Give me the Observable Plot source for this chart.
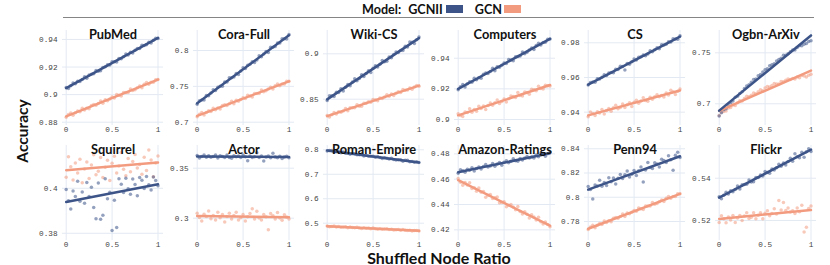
<!DOCTYPE html>
<html><head><meta charset="utf-8">
<script src="https://cdn.jsdelivr.net/npm/d3@7"></script>
<script src="https://cdn.jsdelivr.net/npm/@observablehq/plot@0.6"></script>
<style>
body{margin:0;background:#fff;}
#chart{position:relative;width:830px;height:265px;font-family:Lato,"Open Sans",sans-serif;overflow:hidden;}
.panel{position:absolute;}
.lbl{position:absolute;font-weight:bold;color:#111;white-space:nowrap;transform:translate(-50%,-50%);}
</style></head><body><div id="chart"></div>
<script>
const datasets = ["PubMed","Cora-Full","Wiki-CS","Computers","CS","Ogbn-ArXiv","Squirrel","Actor","Roman-Empire","Amazon-Ratings","Penn94","Flickr"];
const models = ["GCNII","GCN"];
const colors = ["#3C5488","#F39B7F"];
const xTicks = [0,0.5,1];
const yTicks = [[0.88,0.9,0.92,0.94],[0.7,0.75,0.8],[0.85,0.9],[0.9,0.92,0.94],[0.94,0.96,0.98],[0.7,0.75],[0.38,0.4],[0.3,0.35],[0.5,0.6,0.7,0.8],[0.42,0.44,0.46,0.48],[0.78,0.8,0.82,0.84],[0.52,0.54]];
const yDomains = [[0.8776,0.9465],[0.6954,0.8279],[0.8210,0.9257],[0.8961,0.9581],[0.9323,0.9871],[0.6787,0.7719],[0.3768,0.4190],[0.2777,0.3727],[0.4293,0.8176],[0.4116,0.4866],[0.7643,0.8427],[0.5105,0.5555]];
const ratios = [0,0.025,0.05,0.075,0.1,0.125,0.15,0.175,0.2,0.225,0.25,0.275,0.3,0.325,0.35,0.375,0.4,0.425,0.45,0.475,0.5,0.525,0.55,0.575,0.6,0.625,0.65,0.675,0.7,0.725,0.75,0.775,0.8,0.825,0.85,0.875,0.9,0.925,0.95,0.975,1];

const pubmedGCNII = [.9051,.9045,.9064,.9084,.9078,.9097,.9096,.9110,.9129,.9118,.9143,.9147,.9151,.9175,.9169,.9173,.9197,.9202,.9216,.9215,.9239,.9238,.9237,.9262,.9261,.9275,.9294,.9288,.9307,.9301,.9321,.9335,.9334,.9358,.9357,.9361,.9380,.9375,.9394,.9408,.9407];
const pubmedGCN = [.8836,.8855,.8867,.8850,.8869,.8881,.8876,.8901,.8889,.8902,.8897,.8921,.8928,.8923,.8936,.8954,.8937,.8962,.8956,.8969,.8982,.8976,.9001,.8996,.8990,.9015,.9016,.9016,.9041,.9030,.9036,.9049,.9062,.9050,.9075,.9088,.9076,.9089,.9090,.9108,.9109];
const coraGCNII = [.7252,.7300,.7311,.7311,.7371,.7370,.7406,.7454,.7441,.7489,.7501,.7500,.7560,.7560,.7619,.7619,.7630,.7678,.7666,.7713,.7761,.7749,.7796,.7808,.7844,.7831,.7867,.7927,.7914,.7950,.7986,.7973,.8045,.8045,.8056,.8104,.8103,.8163,.8163,.8162,.8222];
const coraGCN = [.7076,.7112,.7136,.7100,.7136,.7160,.7148,.7196,.7172,.7197,.7185,.7233,.7245,.7233,.7257,.7293,.7257,.7305,.7293,.7317,.7341,.7329,.7377,.7365,.7353,.7401,.7401,.7401,.7449,.7426,.7438,.7462,.7486,.7462,.7510,.7534,.7510,.7534,.7534,.7570,.7570];
const wikiGCNII = [.8485,.8538,.8537,.8530,.8577,.8575,.8616,.8591,.8632,.8661,.8648,.8689,.8724,.8704,.8727,.8768,.8749,.8784,.8813,.8794,.8841,.8869,.8856,.8885,.8926,.8913,.8918,.8965,.8958,.8992,.9021,.9014,.9037,.9036,.9083,.9076,.9129,.9127,.9114,.9155,.9184];
const wikiGCN = [.8320,.8305,.8329,.8353,.8338,.8362,.8355,.8371,.8396,.8372,.8405,.8405,.8405,.8438,.8422,.8423,.8455,.8456,.8472,.8465,.8497,.8490,.8482,.8514,.8507,.8523,.8548,.8532,.8557,.8541,.8566,.8582,.8574,.8607,.8599,.8600,.8624,.8609,.8633,.8650,.8642];
const computersGCNII = [.9194,.9214,.9228,.9213,.9233,.9247,.9243,.9269,.9259,.9273,.9270,.9296,.9304,.9300,.9314,.9334,.9318,.9345,.9341,.9355,.9369,.9365,.9391,.9388,.9384,.9410,.9412,.9414,.9440,.9430,.9439,.9453,.9467,.9457,.9483,.9497,.9487,.9502,.9504,.9524,.9526];
const computersGCN = [.9038,.9027,.9020,.9049,.9046,.9071,.9048,.9065,.9054,.9087,.9072,.9089,.9066,.9091,.9108,.9093,.9110,.9127,.9104,.9117,.9134,.9115,.9136,.9153,.9150,.9143,.9176,.9157,.9154,.9179,.9176,.9165,.9198,.9195,.9188,.9217,.9202,.9199,.9224,.9221,.9218];
const csGCNII = [.9556,.9571,.9574,.9573,.9592,.9591,.9601,.9616,.9611,.9626,.9629,.9628,.9647,.9646,.9665,.9664,.9643,.9681,.9676,.9691,.9706,.9701,.9716,.9719,.9730,.9725,.9735,.9754,.9749,.9760,.9771,.9766,.9789,.9788,.9791,.9806,.9804,.9823,.9822,.9821,.9840];
const csGCN = [.9373,.9401,.9392,.9380,.9403,.9395,.9415,.9390,.9410,.9421,.9405,.9425,.9440,.9420,.9427,.9447,.9427,.9442,.9454,.9433,.9457,.9469,.9452,.9464,.9483,.9467,.9463,.9486,.9474,.9489,.9501,.9489,.9496,.9488,.9511,.9499,.9527,.9518,.9502,.9521,.9533];
const ogbnGCNII = [.6879,.6912,.6941,.6951,.6984,.7011,.7027,.7063,.7075,.7102,.7117,.7151,.7174,.7186,.7211,.7239,.7244,.7276,.7288,.7311,.7335,.7344,.7374,.7383,.7393,.7421,.7434,.7446,.7475,.7477,.7491,.7510,.7528,.7528,.7553,.7569,.7569,.7583,.7591,.7610,.7618];
const ogbnGCN = [.6885,.6918,.6924,.6929,.6958,.6963,.6989,.6982,.7009,.7029,.7027,.7051,.7073,.7068,.7083,.7105,.7099,.7119,.7137,.7129,.7154,.7170,.7164,.7179,.7200,.7193,.7195,.7218,.7215,.7231,.7243,.7238,.7247,.7243,.7264,.7256,.7278,.7273,.7263,.7279,.7289];
const squirrelGCNII = [.3995,.3945,.3908,.3988,.3964,.4031,.3942,.3983,.3933,.4026,.3963,.4004,.3915,.3865,.4023,.3862,.3880,.4042,.3953,.3982,.3812,.3947,.3826,.4042,.4018,.3981,.4045,.3998,.3974,.4041,.4017,.3967,.4048,.4036,.3999,.4052,.4016,.3992,.4050,.4035,.4011];
const squirrelGCN = [.4049,.4140,.4096,.4037,.4112,.4068,.4129,.4025,.4086,.4117,.4043,.4103,.4149,.4060,.4076,.4137,.4048,.4093,.4124,.4035,.4111,.4142,.4068,.4099,.4159,.4085,.4056,.4132,.4073,.4119,.4150,.4090,.4106,.4062,.4138,.4079,.4170,.4126,.4051,.4112,.4143];
const actorGCNII = [.3626,.3602,.3618,.3633,.3609,.3625,.3609,.3617,.3633,.3601,.3624,.3616,.3608,.3632,.3608,.3600,.3624,.3615,.3623,.3607,.3631,.3615,.3575,.3623,.3606,.3614,.3655,.3606,.3622,.3572,.3613,.3621,.3605,.3650,.3613,.3605,.3620,.3596,.3612,.3620,.3604];
const actorGCN = [.3050,.3006,.2973,.3039,.3017,.3071,.2994,.3027,.2983,.3060,.3005,.3038,.2961,.3016,.3049,.2993,.3026,.3059,.2982,.3004,.3037,.2971,.3015,.3048,.3095,.2993,.3069,.3003,.2981,.3036,.3014,.2885,.3047,.3025,.2992,.3058,.3002,.2980,.3035,.3013,.2991];
const romanGCNII = [.7955,.7973,.7976,.7903,.7921,.7924,.7882,.7914,.7857,.7860,.7818,.7850,.7838,.7796,.7799,.7816,.7744,.7777,.7735,.7737,.7740,.7698,.7731,.7688,.7646,.7679,.7652,.7624,.7657,.7600,.7588,.7590,.7593,.7536,.7569,.7571,.7514,.7517,.7490,.7507,.7480];
const romanGCN = [.4887,.4852,.4868,.4883,.4848,.4863,.4839,.4844,.4859,.4815,.4840,.4825,.4810,.4836,.4801,.4786,.4811,.4797,.4802,.4777,.4803,.4778,.4753,.4778,.4754,.4759,.4774,.4739,.4755,.4720,.4735,.4741,.4716,.4741,.4716,.4702,.4717,.4682,.4698,.4703,.4678];
const amazonGCNII = [.4647,.4675,.4667,.4654,.4678,.4670,.4690,.4665,.4685,.4697,.4681,.4700,.4716,.4696,.4704,.4723,.4703,.4719,.4731,.4710,.4734,.4746,.4730,.4741,.4761,.4745,.4741,.4764,.4752,.4768,.4780,.4767,.4775,.4767,.4791,.4778,.4806,.4798,.4782,.4801,.4813];
const amazonGCN = [.4605,.4576,.4552,.4573,.4554,.4571,.4527,.4533,.4504,.4530,.4496,.4502,.4458,.4474,.4480,.4447,.4453,.4459,.4415,.4416,.4422,.4383,.4394,.4400,.4381,.4358,.4384,.4345,.4326,.4342,.4323,.4294,.4320,.4301,.4277,.4299,.4265,.4246,.4262,.4243,.4224];
const pennGCNII = [.8089,.8064,.7985,.8102,.8093,.8140,.8091,.8122,.8097,.8160,.8127,.8158,.8109,.8156,.8187,.8154,.8185,.8216,.8167,.8190,.8221,.8180,.8219,.8250,.8125,.8224,.8287,.8246,.8237,.8284,.8275,.8250,.8313,.8304,.8287,.8342,.8309,.8222,.8347,.8372,.8329];
const pennGCN = [.7733,.7754,.7768,.7748,.7769,.7783,.7776,.7804,.7791,.7805,.7798,.7826,.7833,.7827,.7841,.7862,.7841,.7869,.7863,.7877,.7891,.7884,.7912,.7906,.7899,.7927,.7927,.7927,.7956,.7942,.7949,.7963,.7977,.7964,.7992,.8006,.7992,.8006,.8007,.8028,.8028];
const flickrGCNII = [.5312,.5303,.5319,.5334,.5325,.5341,.5336,.5347,.5363,.5349,.5369,.5370,.5371,.5391,.5382,.5383,.5404,.5404,.5415,.5411,.5432,.5427,.5423,.5444,.5439,.5450,.5466,.5457,.5472,.5463,.5479,.5495,.5480,.5516,.5502,.5497,.5523,.5499,.5525,.5540,.5526];
const flickrGCN = [.5190,.5222,.5208,.5189,.5216,.5202,.5224,.5190,.5212,.5223,.5200,.5221,.5237,.5209,.5215,.5237,.5208,.5225,.5236,.5208,.5234,.5246,.5222,.5233,.5255,.5231,.5295,.5249,.5285,.5247,.5259,.5240,.5246,.5233,.5259,.5241,.5272,.5145,.5168,.5257,.5268];

const seriesByDataset = [
  [pubmedGCNII, pubmedGCN], [coraGCNII, coraGCN], [wikiGCNII, wikiGCN],
  [computersGCNII, computersGCN], [csGCNII, csGCN], [ogbnGCNII, ogbnGCN],
  [squirrelGCNII, squirrelGCN], [actorGCNII, actorGCN], [romanGCNII, romanGCN],
  [amazonGCNII, amazonGCN], [pennGCNII, pennGCN], [flickrGCNII, flickrGCN]
];

const chart = document.getElementById("chart");

// legend
const legend = document.createElement("div");
legend.style.cssText = "position:absolute;left:362px;top:0px;height:18px;display:flex;align-items:center;font-weight:bold;font-size:12.6px;color:#111;white-space:nowrap;";
const lt = document.createElement("span"); lt.textContent = "Model:"; lt.style.marginRight = "7px"; legend.appendChild(lt);
models.forEach((m, j) => {
  const t = document.createElement("span"); t.textContent = m; t.style.marginRight = j === 0 ? "3px" : "2px";
  const s = document.createElement("span"); s.style.cssText = `display:inline-block;width:17px;height:8px;background:${colors[j]};margin-right:12px;`;
  legend.appendChild(t); legend.appendChild(s);
});
chart.appendChild(legend);

const rule = document.createElement("div");
rule.style.cssText = "position:absolute;left:63px;top:16.6px;width:751px;height:1.3px;background:#858585;";
chart.appendChild(rule);

const PW = 101, PH = 95, mL = 36, mR = 4, mT = 16, mB = 14;
datasets.forEach((name, i) => {
  const c = i % 6, r = Math.floor(i / 6);
  const rows = [];
  // draw GCN first so GCNII dots sit on top
  [1, 0].forEach(j => seriesByDataset[i][j].forEach((v, k) => rows.push({ratio: ratios[k], acc: v, model: models[j]})));
  const svg = Plot.plot({
    width: mL + PW + mR, height: mT + PH + mB,
    marginLeft: mL, marginRight: mR, marginTop: mT, marginBottom: mB,
    x: {domain: [-0.04, 1.06], axis: null},
    y: {domain: yDomains[i], axis: null},
    color: {domain: models, range: colors},
    style: {background: "transparent", overflow: "visible", fontFamily: "'Liberation Mono', monospace", fontSize: "7.7px", color: "#444"},
    marks: [
      Plot.gridX({ticks: xTicks, stroke: "#E3E9F2", strokeOpacity: 1, strokeWidth: 1}),
      Plot.gridY({ticks: yTicks[i], stroke: "#E3E9F2", strokeOpacity: 1, strokeWidth: 1}),
      Plot.axisX({ticks: xTicks, tickSize: 0, tickPadding: 1, tickFormat: d => String(d), label: null}),
      Plot.axisY({ticks: yTicks[i], tickSize: 0, tickPadding: 5, tickFormat: d => String(d), label: null}),
      Plot.dot(rows, {x: "ratio", y: "acc", fill: "model", r: 1.75, fillOpacity: 0.55}),
      Plot.linearRegressionY(rows, {x: "ratio", y: "acc", stroke: "model", ci: 0, strokeWidth: 2.5}),
      Plot.text([name], {frameAnchor: "top", dy: -1, fontFamily: "Lato, sans-serif", fontWeight: "bold", fontSize: 12.8, fill: "#111"})
    ]
  });
  svg.classList.add("panel");
  svg.style.left = (66 + 130.45 * c - 3.7 - mL) + "px";
  svg.style.top = ((r ? 145 : 30) - mT) + "px";
  svg.style.maxWidth = "none";
  chart.appendChild(svg);
});

const yl = document.createElement("div");
yl.className = "lbl"; yl.textContent = "Accuracy";
yl.style.cssText += "left:22px;top:131px;font-size:15.5px;transform:translate(-50%,-50%) rotate(-90deg);";
chart.appendChild(yl);

const xl = document.createElement("div");
xl.className = "lbl"; xl.textContent = "Shuffled Node Ratio";
xl.style.cssText += "left:439px;top:257px;font-size:16px;";
chart.appendChild(xl);
</script>
</body></html>
